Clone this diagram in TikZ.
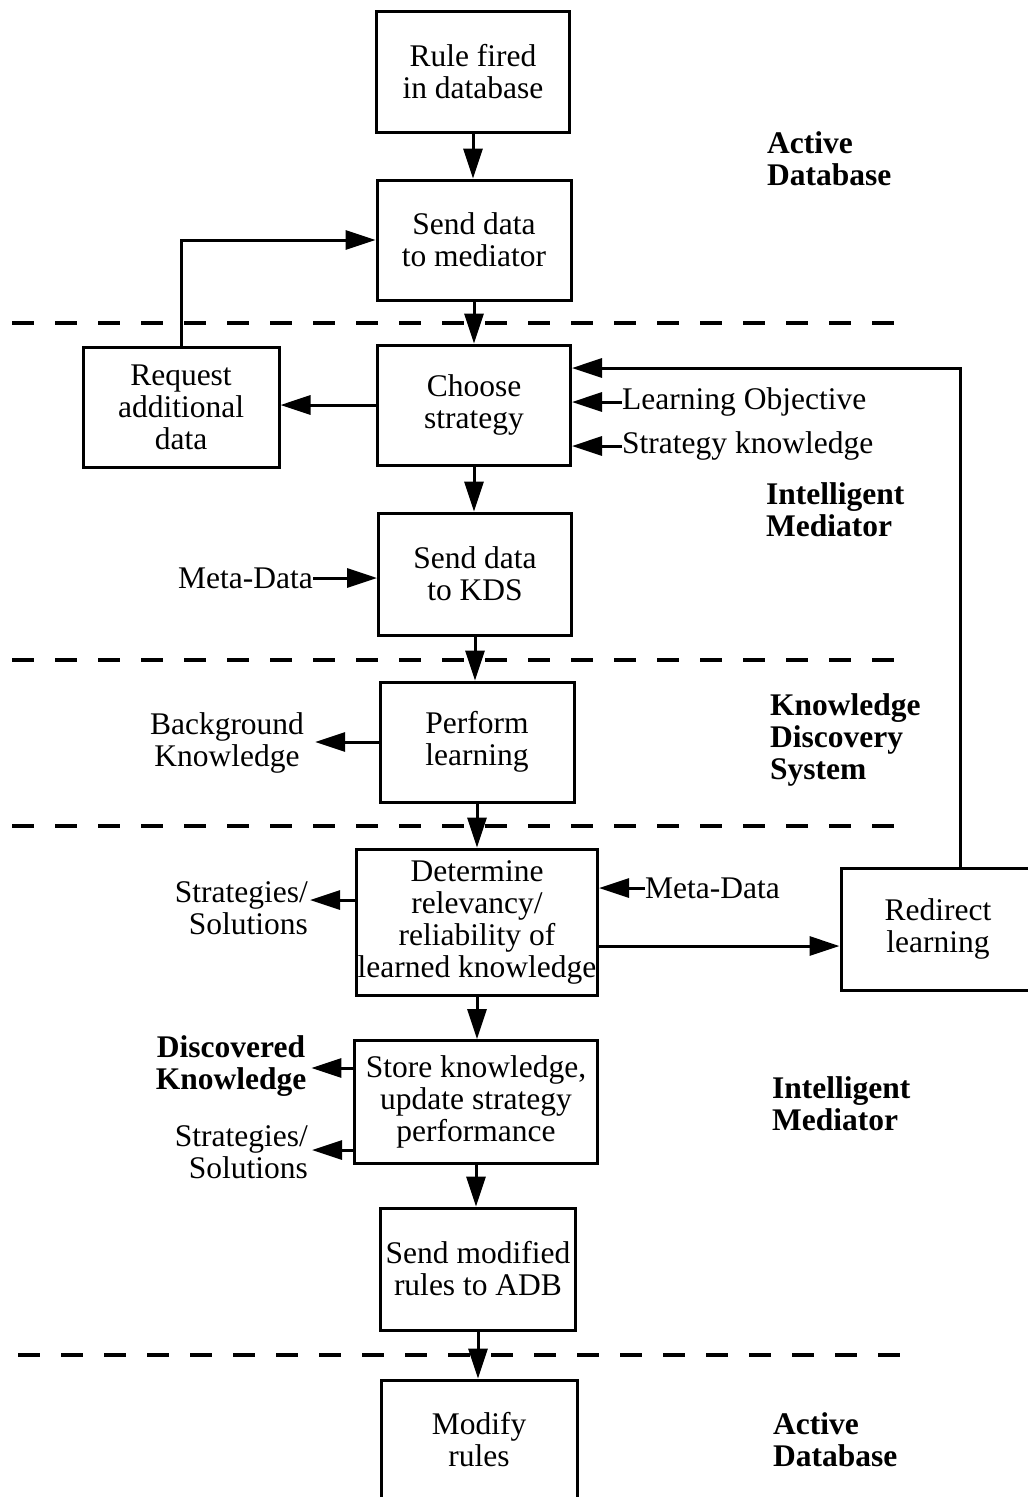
\documentclass[tikz,border=0pt]{standalone}
\usepackage{fontspec}
\setmainfont{Liberation Serif}
\usetikzlibrary{arrows.meta,calc}
\begin{document}
\begin{tikzpicture}[x=1pt,y=-1pt,
  box/.style={draw,line width=3pt,align=center,inner sep=0pt,font=\fontsize{31.5}{32}\selectfont},
  lbl/.style={align=center,inner sep=0pt,font=\fontsize{31.5}{32}\selectfont},
  sec/.style={align=left,inner sep=0pt,anchor=west,font=\fontsize{31.5}{32}\selectfont\bfseries},
  arr/.style={line width=3pt,-{Triangle[length=30pt,width=19pt]}},
  sep/.style={line width=3.5pt,dash pattern=on 22pt off 21pt}]
\useasboundingbox (0,0) rectangle (1028,1497);
\clip (0,0) rectangle (1028,1497);
\fill[white] (0,0) rectangle (1028,1497);

% separators
\draw[sep] (12,323) -- (905,323);
\draw[sep] (12,660) -- (910,660);
\draw[sep] (12,826) -- (910,826);
\draw[sep] (18,1355) -- (912,1355);

% boxes
\node[box,minimum width=193pt,minimum height=121pt] (b1) at (473,72) {Rule fired\\in database};
\node[box,minimum width=194pt,minimum height=120pt] (b2) at (474,240) {Send data\\to mediator};
\node[box,minimum width=196pt,minimum height=120pt] (req) at (181,407) {Request\\additional\\data};
\node[box,minimum width=193pt,minimum height=120pt] (cs) at (474,405) {Choose\\strategy};
\node[box,minimum width=193pt,minimum height=122pt] (kds) at (475,574) {Send data\\to KDS};
\node[box,minimum width=194pt,minimum height=120pt] (pl) at (477,742) {Perform\\learning};
\node[box,minimum width=241pt,minimum height=146pt] (det) at (477,922) {Determine\\relevancy/\\reliability of\\learned knowledge};
\node[box,minimum width=194pt,minimum height=122pt] (red) at (938,929) {Redirect\\learning};
\node[box,minimum width=243pt,minimum height=123pt] (store) at (476,1102) {Store knowledge,\\update strategy\\performance};
\node[box,minimum width=195pt,minimum height=122pt] (smr) at (478,1269) {Send modified\\rules to ADB};
\node[box,minimum width=196pt,minimum height=120pt] (mod) at (479,1440) {Modify\\rules};

% side labels
\node[lbl,anchor=west] (lo) at (622,402) {Learning Objective};
\node[lbl,anchor=west] (sk) at (622,446) {Strategy knowledge};
\node[lbl,anchor=east] (md1) at (313,578) {Meta-Data};
\node[lbl] (bk) at (227,743) {Background\\Knowledge};
\node[lbl,align=right,anchor=east] (ss1) at (308,908) {Strategies/\\Solutions};
\node[lbl,anchor=west] (md2) at (645,888) {Meta-Data};
\node[lbl,font=\fontsize{31.5}{32}\selectfont\bfseries] (dk) at (231,1066) {Discovered\\Knowledge};
\node[lbl,align=right,anchor=east] (ss2) at (308,1152) {Strategies/\\Solutions};

% section labels
\node[sec] (s1) at (767,159) {Active\\Database};
\node[sec] (s2) at (766,510) {Intelligent\\Mediator};
\node[sec] (s3) at (770,740) {Knowledge\\Discovery\\System};
\node[sec] (s4) at (772,1104) {Intelligent\\Mediator};
\node[sec] (s5) at (773,1440) {Active\\Database};

% main flow
\draw[arr] (b1.south) -- (b1.south |- b2.north);
\draw[arr] (b2.south) -- (b2.south |- cs.north);
\draw[arr] (cs.south) -- (cs.south |- kds.north);
\draw[arr] (kds.south) -- (kds.south |- pl.north);
\draw[arr] (pl.south) -- (pl.south |- det.north);
\draw[arr] (det.south) -- (det.south |- store.north);
\draw[arr] (store.south) -- (store.south |- smr.north);
\draw[arr] (smr.south) -- (smr.south |- mod.north);

% side connectors
\draw[arr] (cs.west) -- (cs.west -| req.east);
\draw[arr] (req.north) |- (b2.west);
\draw[arr] (lo.west) -- (lo.west -| cs.east);
\draw[arr] (sk.west) -- (sk.west -| cs.east);
\draw[arr] ([xshift=22pt]red.north) |- ($(cs.east)+(0,-37)$);
\draw[arr] (md1.east) -- (md1.east -| kds.west);
\draw[arr,shorten >=11pt] (pl.west) -- (pl.west -| bk.east);
\draw[arr] (det.west |- 0,900) -- ($(ss1.east |- 0,900)+(2,0)$);
\draw[arr] (md2.west) -- (md2.west -| det.east);
\draw[arr] (det.east |- 0,946) -- (red.west |- 0,946);
\draw[arr,shorten >=5pt] (store.west |- 0,1068) -- (dk.east |- 0,1068);
\draw[arr] (store.west |- 0,1150) -- ($(ss2.east |- 0,1150)+(4,0)$);
\end{tikzpicture}
\end{document}
